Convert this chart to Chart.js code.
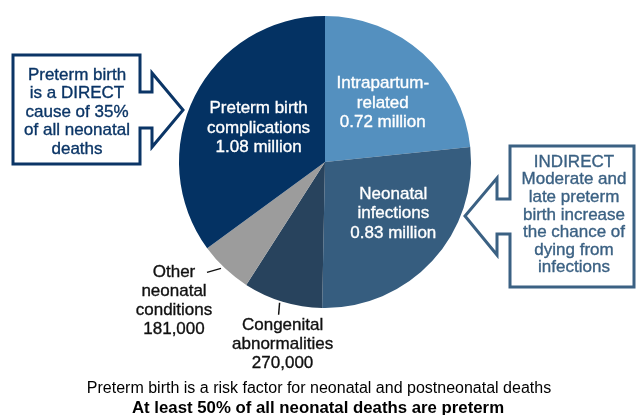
<!DOCTYPE html>
<html>
<head>
<meta charset="utf-8">
<script src="https://cdn.jsdelivr.net/npm/chart.js@4"></script>
<style>
  html, body { margin: 0; padding: 0; background: #fff; }
  #wrap { width: 637px; height: 415px; position: relative; }
</style>
</head>
<body>
<div id="wrap"><canvas id="pie-chart"></canvas></div>
<script>
// data, clockwise from 12 o'clock
var categories = ['Intrapartum-related', 'Neonatal infections', 'Congenital abnormalities', 'Other neonatal conditions', 'Preterm birth complications'];
var deathsMillions = [0.72, 0.83, 0.27, 0.181, 1.08];
var nameLines = [['Intrapartum-', 'related'], ['Neonatal', 'infections'], ['Congenital', 'abnormalities'], ['Other', 'neonatal', 'conditions'], ['Preterm birth', 'complications']];
var valueLabels = ['0.72 million', '0.83 million', '270,000', '181,000', '1.08 million'];

var sliceColors = ['#5490bf', '#365d7f', '#28435d', '#9c9c9c', '#043263'];
var FONT = '"Liberation Sans", Arial, sans-serif';

// label placement: inside labels sit at frac of the radius on the mid angle,
// outside ones hang off the rim with a short leader
var labelStyle = [
    { inside: true, frac: 0.57, dx: 2, dy: 3 },
    { inside: true, frac: 0.58, dx: 6, dy: -6 },
    { inside: false, lead: [-3, 1, -4, 13], dx: 0, dy: 43 },
    { inside: false, lead: [-4, 0, -18, 4], dx: -51, dy: 32 },
    { inside: true, frac: 0.51, dx: 0, dy: 0 }
];

// helvetica in the original is a touch heavier than liberation, so a hairline stroke
function drawLines(ctx, lines, cx, cy, lh) {
    ctx.lineWidth = 0.35;
    ctx.strokeStyle = ctx.fillStyle;
    for (var i = 0; i < lines.length; i++) {
        var y = cy + (i - (lines.length - 1) / 2) * lh;
        ctx.fillText(lines[i], cx, y);
        ctx.strokeText(lines[i], cx, y);
    }
}

var sliceLabels = {
    id: 'sliceLabels',
    afterDatasetsDraw: function (chart) {
        var ctx = chart.ctx;
        var arcs = chart.getDatasetMeta(0).data;
        ctx.save();
        ctx.textAlign = 'center';
        ctx.textBaseline = 'middle';
        ctx.font = '17px ' + FONT;
        arcs.forEach(function (arc, i) {
            var p = arc.getProps(['x', 'y', 'startAngle', 'endAngle', 'outerRadius'], true);
            var mid = (p.startAngle + p.endAngle) / 2;
            var st = labelStyle[i];
            var lines = nameLines[i].concat([valueLabels[i]]);
            if (st.inside) {
                var r = p.outerRadius * st.frac;
                ctx.fillStyle = '#ffffff';
                drawLines(ctx, lines, p.x + Math.cos(mid) * r + st.dx, p.y + Math.sin(mid) * r + st.dy, 19.5);
            } else {
                var ax = p.x + Math.cos(mid) * p.outerRadius;
                var ay = p.y + Math.sin(mid) * p.outerRadius;
                ctx.strokeStyle = '#111';
                ctx.lineWidth = 1.5;
                ctx.beginPath();
                ctx.moveTo(ax + st.lead[0], ay + st.lead[1]);
                ctx.lineTo(ax + st.lead[2], ay + st.lead[3]);
                ctx.stroke();
                ctx.fillStyle = '#111';
                drawLines(ctx, lines, ax + st.dx, ay + st.dy, 19);
            }
        });
        ctx.restore();
    }
};

// arrow callouts and the caption below the pie
function callout(ctx, pts, color) {
    ctx.beginPath();
    ctx.moveTo(pts[0][0], pts[0][1]);
    for (var i = 1; i < pts.length; i++) ctx.lineTo(pts[i][0], pts[i][1]);
    ctx.closePath();
    ctx.fillStyle = '#fff';
    ctx.fill();
    ctx.lineWidth = 3;
    ctx.lineJoin = 'miter';
    ctx.strokeStyle = color;
    ctx.stroke();
}

var annotations = {
    id: 'annotations',
    afterDraw: function (chart) {
        var ctx = chart.ctx;
        ctx.save();
        callout(ctx, [[13, 55], [140, 55], [140, 92], [152, 92], [152, 73], [183, 110], [152, 147], [152, 128], [140, 128], [140, 164], [13, 164]], '#0b3566');
        callout(ctx, [[510, 146], [634, 146], [634, 287], [510, 287], [510, 234], [497, 234], [497, 255], [465, 216], [497, 178], [497, 199], [510, 199]], '#3b6183');

        ctx.textAlign = 'center';
        ctx.textBaseline = 'middle';
        ctx.font = '17px ' + FONT;
        ctx.fillStyle = '#0b3566';
        drawLines(ctx, ['Preterm birth', 'is a DIRECT', 'cause of 35%', 'of all neonatal', 'deaths'], 77, 112, 18.5);
        ctx.fillStyle = '#3b6183';
        drawLines(ctx, ['INDIRECT', 'Moderate and', 'late preterm', 'birth increase', 'the chance of', 'dying from', 'infections'], 574, 215, 17.6);

        ctx.fillStyle = '#000';
        ctx.font = '16px ' + FONT;
        ctx.fillText('Preterm birth is a risk factor for neonatal and postneonatal deaths', 319, 389);
        ctx.font = 'bold 16.8px ' + FONT;
        ctx.fillText('At least 50% of all neonatal deaths are preterm', 318, 408);
        ctx.restore();
    }
};

var ctx = document.getElementById('pie-chart');
var chart = new Chart(ctx, {
    type: 'pie',
    data: {
        labels: categories,
        datasets: [{
            data: deathsMillions,
            backgroundColor: sliceColors,
            borderWidth: 0
        }]
    },
    options: {
        responsive: true,
        maintainAspectRatio: false,
        animation: false,
        layout: { padding: { left: 179, right: 166, top: 16, bottom: 107 } },
        plugins: {
            legend: { display: false },
            tooltip: { enabled: false }
        }
    },
    plugins: [sliceLabels, annotations]
});
</script>
</body>
</html>
